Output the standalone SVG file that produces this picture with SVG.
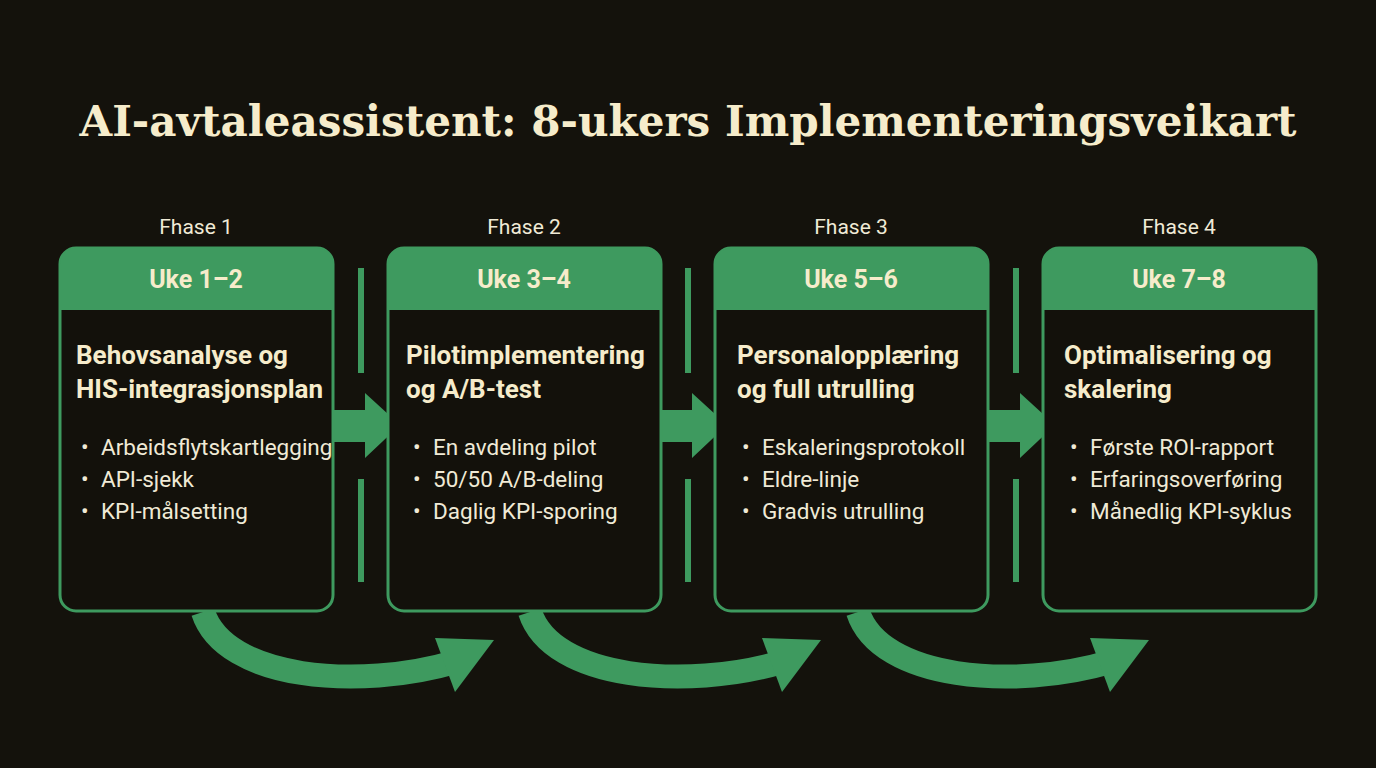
<svg xmlns="http://www.w3.org/2000/svg" width="1376" height="768" viewBox="0 0 1376 768">
<defs>
<style>
.title{font-family:"DejaVu Serif","Liberation Serif",serif;font-weight:bold;font-size:42px;fill:#f6eccb}
.phase{font-family:Roboto,"Liberation Sans",sans-serif;font-size:21px;fill:#f0ead6}
.week{font-family:Roboto,"Liberation Sans",sans-serif;font-weight:bold;font-size:25px;fill:#f6eccb}
.head{font-family:Roboto,"Liberation Sans",sans-serif;font-weight:bold;font-size:26px;fill:#f6eccb}
.item{font-family:Roboto,"Liberation Sans",sans-serif;font-size:22.5px;fill:#f0ead6}
.box{fill:#13110b;stroke:#3e9a5f;stroke-width:3}
.hdr{fill:#3e9a5f}
.bar{fill:#3e9a5f}
.curve{fill:none;stroke:#3e9a5f;stroke-width:24}
</style>
</defs>
<rect width="1376" height="768" fill="#14120c"/>
<text class="title" x="688" y="136" text-anchor="middle" textLength="1217" lengthAdjust="spacingAndGlyphs">AI-avtaleassistent: 8-ukers Implementeringsveikart</text>

<g id="connectors">
<rect class="bar" x="358" y="268" width="6" height="105"/><rect class="bar" x="358" y="479" width="6" height="103"/>
<rect class="bar" x="685" y="268" width="6" height="105"/><rect class="bar" x="685" y="479" width="6" height="103"/>
<rect class="bar" x="1013" y="268" width="6" height="105"/><rect class="bar" x="1013" y="479" width="6" height="103"/>
<polygon class="bar" points="333,410 365,410 365,393 400,425 365,458 365,442 333,442"/>
<polygon class="bar" points="660,410 692,410 692,393 727,425 692,458 692,442 660,442"/>
<polygon class="bar" points="988,410 1020,410 1020,393 1055,425 1020,458 1020,442 988,442"/>
<path class="curve" d="M203,612 C225,680 360,690 455,662"/>
<polygon class="bar" points="435,638 494,640 455,692"/>
<path class="curve" d="M530,612 C552,680 687,690 782,662"/>
<polygon class="bar" points="762,638 821,640 782,692"/>
<path class="curve" d="M858,612 C880,680 1015,690 1110,662"/>
<polygon class="bar" points="1090,638 1149,640 1110,692"/>
</g>

<g id="phase1">
<text class="phase" x="196" y="234" text-anchor="middle">Fhase 1</text>
<rect class="box" x="60" y="248" width="273" height="363" rx="16"/>
<path class="hdr" d="M60,310 V264 A16,16 0 0 1 76,248 H317 A16,16 0 0 1 333,264 V310 Z"/>
<text class="week" x="196" y="288" text-anchor="middle">Uke 1–2</text>
<text class="head" x="76" y="364">Behovsanalyse og</text>
<text class="head" x="76" y="398">HIS-integrasjonsplan</text>
<text class="item" x="81" y="455">•</text><text class="item" x="101" y="455">Arbeidsflytskartlegging</text>
<text class="item" x="81" y="487">•</text><text class="item" x="101" y="487">API-sjekk</text>
<text class="item" x="81" y="519">•</text><text class="item" x="101" y="519">KPI-målsetting</text>
</g>
<g id="phase2">
<text class="phase" x="524" y="234" text-anchor="middle">Fhase 2</text>
<rect class="box" x="388" y="248" width="273" height="363" rx="16"/>
<path class="hdr" d="M388,310 V264 A16,16 0 0 1 404,248 H645 A16,16 0 0 1 661,264 V310 Z"/>
<text class="week" x="524" y="288" text-anchor="middle">Uke 3–4</text>
<text class="head" x="406" y="364">Pilotimplementering</text>
<text class="head" x="406" y="398">og A/B-test</text>
<text class="item" x="413" y="455">•</text><text class="item" x="433" y="455">En avdeling pilot</text>
<text class="item" x="413" y="487">•</text><text class="item" x="433" y="487">50/50 A/B-deling</text>
<text class="item" x="413" y="519">•</text><text class="item" x="433" y="519">Daglig KPI-sporing</text>
</g>
<g id="phase3">
<text class="phase" x="851" y="234" text-anchor="middle">Fhase 3</text>
<rect class="box" x="715" y="248" width="273" height="363" rx="16"/>
<path class="hdr" d="M715,310 V264 A16,16 0 0 1 731,248 H972 A16,16 0 0 1 988,264 V310 Z"/>
<text class="week" x="851" y="288" text-anchor="middle">Uke 5–6</text>
<text class="head" x="737" y="364">Personalopplæring</text>
<text class="head" x="737" y="398">og full utrulling</text>
<text class="item" x="742" y="455">•</text><text class="item" x="762" y="455">Eskaleringsprotokoll</text>
<text class="item" x="742" y="487">•</text><text class="item" x="762" y="487">Eldre-linje</text>
<text class="item" x="742" y="519">•</text><text class="item" x="762" y="519">Gradvis utrulling</text>
</g>
<g id="phase4">
<text class="phase" x="1179" y="234" text-anchor="middle">Fhase 4</text>
<rect class="box" x="1043" y="248" width="273" height="363" rx="16"/>
<path class="hdr" d="M1043,310 V264 A16,16 0 0 1 1059,248 H1300 A16,16 0 0 1 1316,264 V310 Z"/>
<text class="week" x="1179" y="288" text-anchor="middle">Uke 7–8</text>
<text class="head" x="1064" y="364">Optimalisering og</text>
<text class="head" x="1064" y="398">skalering</text>
<text class="item" x="1070" y="455">•</text><text class="item" x="1090" y="455">Første ROI-rapport</text>
<text class="item" x="1070" y="487">•</text><text class="item" x="1090" y="487">Erfaringsoverføring</text>
<text class="item" x="1070" y="519">•</text><text class="item" x="1090" y="519">Månedlig KPI-syklus</text>
</g>
</svg>
